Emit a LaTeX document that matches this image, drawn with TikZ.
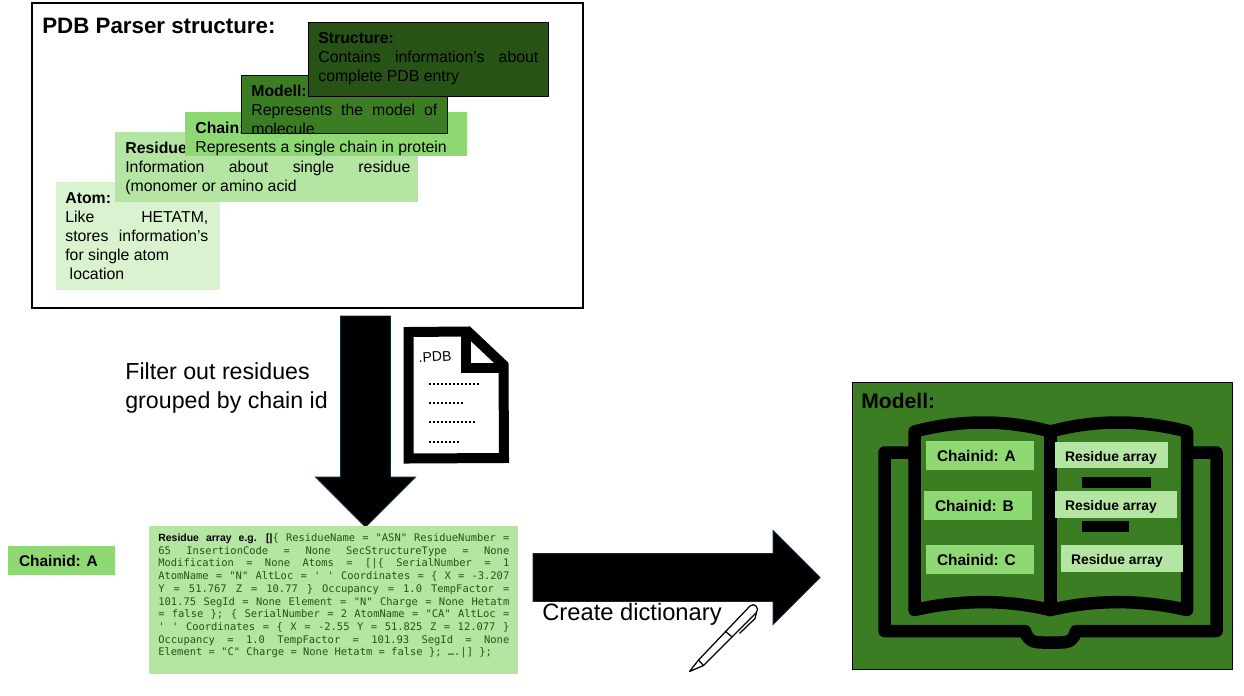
\documentclass[tikz,border=0pt]{standalone}
\usepackage{fontspec}
\setmainfont{Liberation Sans}
\newfontfamily\ArrayFont{DejaVu Sans Mono}
\usetikzlibrary{shapes.arrows}
\definecolor{AtomGreen}{HTML}{D9F2D0}
\definecolor{ResidueGreen}{HTML}{B4E5A2}
\definecolor{ChainGreen}{HTML}{8ED973}
\definecolor{ModellGreen}{HTML}{3B7D23}
\definecolor{StructureGreen}{HTML}{275317}
\definecolor{ArrowEdge}{HTML}{0E2841}
\newcommand{\AtomColor}{AtomGreen}
\newcommand{\ResidueColor}{ResidueGreen}
\newcommand{\ChainColor}{ChainGreen}
\newcommand{\ModellColor}{ModellGreen}
\newcommand{\StructureColor}{StructureGreen}
\newcommand{\FullLine}[1]{\makebox[\linewidth][s]{#1}\\}
\newcommand{\ArrayLine}[1]{\makebox[\linewidth][s]{\spaceskip=0.602em plus 1em\relax #1}\\}

\begin{document}
\begin{tikzpicture}[
	% Define styles and settings
	every node/.append style={execute at begin node={\spaceskip=0pt\xspaceskip=0pt}},
	layerbox/.style={rectangle, inner sep=0pt, outer sep=0pt},
	layertext/.style={anchor=north west, inner sep=0pt, align=left, font=\fontsize{9}{10.8}\selectfont},
	chainbox/.style={rectangle, fill=\ChainColor, inner xsep=0.22cm, inner ysep=0pt, minimum height=0.58cm, text width=1.72cm, align=left, font=\fontsize{8.8}{10}\selectfont\bfseries},
	arraybox/.style={rectangle, fill=\ResidueColor, inner xsep=0.2cm, inner ysep=0pt, minimum height=0.53cm, text height=0.24cm, text depth=0pt, align=left, font=\fontsize{7.9}{9}\selectfont\bfseries},
	bookline/.style={line width=0.25cm, line join=round, line cap=round},
	blockarrow/.style={single arrow, anchor=tail, single arrow head indent=0pt, draw=ArrowEdge, line width=0.5pt, fill=black, inner xsep=0pt, outer sep=0pt},
	caption/.style={anchor=west, inner sep=0pt, align=left, font=\fontsize{13.5}{16.4}\selectfont}
	]
	\useasboundingbox (0,0) rectangle (24.88,13.9);

	% parser structure
	\draw (6.15,10.79) node[layerbox,minimum height=6.10cm,minimum width=11.02cm,draw,line width=0.05cm] (ParserFrame) {};
	\draw (0.84,13.38) node[anchor=west,inner sep=0pt,font=\fontsize{12.7}{14}\selectfont\bfseries] (ParserTitle) {PDB Parser structure:};

	\draw (2.76,9.18) node[layerbox,minimum height=2.16cm,minimum width=3.28cm,fill=\AtomColor] (Atom) {};
	\draw ([xshift=0.18cm,yshift=-0.2cm]Atom.north west) node[layertext,text width=2.86cm] (AtomText) {\textbf{Atom:}\\\FullLine{Like HETATM,}\FullLine{stores information’s}for single atom\\\ location};

	\draw (5.33,10.56) node[layerbox,minimum height=1.40cm,minimum width=6.06cm,fill=\ResidueColor] (Residue) {};
	\draw ([xshift=0.2cm,yshift=-0.2cm]Residue.north west) node[layertext,text width=5.7cm] (ResidueText) {\textbf{Residue:}\\\FullLine{Information about single residue}(monomer or amino acid};

	\draw (6.52,11.22) node[layerbox,minimum height=0.88cm,minimum width=5.64cm,fill=\ChainColor] (Chain) {};
	\draw ([xshift=0.2cm,yshift=-0.19cm]Chain.north west) node[layertext,text width=5.3cm] (ChainText) {\textbf{Chain:}\\Represents a single chain in protein};

	\draw (6.88,11.82) node[layerbox,minimum height=1.16cm,minimum width=4.12cm,draw,fill=\ModellColor] (Modell) {};
	\draw ([xshift=0.2cm,yshift=-0.2cm]Modell.north west) node[layertext,text width=3.72cm] (ModellText) {\textbf{Modell:}\\\FullLine{Represents the model of}molecule};

	\draw (8.56,12.72) node[layerbox,minimum height=1.48cm,minimum width=4.80cm,draw,fill=\StructureColor] (Structure) {};
	\draw ([xshift=0.2cm,yshift=-0.2cm]Structure.north west) node[layertext,text width=4.4cm] (StructureText) {\textbf{Structure:}\\\FullLine{Contains information's about}complete PDB entry};

	% filter step
	\draw (7.31,7.58) node[blockarrow,rotate=-90,minimum height=4.22cm,minimum width=1.98cm,inner ysep=0.49cm,single arrow head extend=0.5cm] (FilterArrow) {};
	\draw (2.5,6.14) node[caption,font=\fontsize{13.2}{16.4}\selectfont] (FilterText) {Filter out residues\\grouped by chain id};

	% pdb file icon
	\draw[line width=0.2cm,line join=miter] (8.17,7.26) -- (9.36,7.27) -- (10.07,6.6) -- (10.08,4.74) -- (8.17,4.73) -- cycle;
	\draw[line width=0.2cm,line join=miter] (9.31,7.26) -- (9.31,6.55) -- (10.07,6.55);
	\draw (8.7,6.76) node[rotate=3,inner sep=0pt,font=\fontsize{8}{9}\selectfont] (FileName) {.PDB};
	\draw[line width=0.03cm,dash pattern=on 0.03cm off 0.05cm] (8.58,6.22) -- (9.6,6.22);
	\draw[line width=0.03cm,dash pattern=on 0.03cm off 0.05cm] (8.58,5.84) -- (9.26,5.84);
	\draw[line width=0.03cm,dash pattern=on 0.03cm off 0.05cm] (8.58,5.46) -- (9.53,5.46);
	\draw[line width=0.03cm,dash pattern=on 0.03cm off 0.05cm] (8.58,5.06) -- (9.18,5.06);

	% chain id and residue array
	\draw (1.23,2.69) node[chainbox,minimum width=2.14cm,text width=1.7cm] (ChainidSingle) {Chainid: A};
	\draw (6.67,1.90) node[layerbox,minimum height=2.96cm,minimum width=7.38cm,fill=\ResidueColor] (ResidueArray) {};
	\draw ([xshift=0.18cm,yshift=-0.14cm]ResidueArray.north west) node[anchor=north west,inner sep=0pt,text width=7.02cm,align=left,text=\StructureColor,font=\fontsize{5.95}{7.25}\selectfont\ArrayFont] (ArrayText) {%
		\ArrayLine{{\color{black}\rmfamily\bfseries Residue array e.g. [|}\{ ResidueName = "ASN" ResidueNumber =}%
		\ArrayLine{65 InsertionCode = None SecStructureType = None}%
		\ArrayLine{Modification = None Atoms = [|\{ SerialNumber = 1}%
		\ArrayLine{AtomName = "N" AltLoc = ' ' Coordinates = \{ X = -3.207}%
		\ArrayLine{Y = 51.767 Z = 10.77 \} Occupancy = 1.0 TempFactor =}%
		\ArrayLine{101.75 SegId = None Element = "N" Charge = None Hetatm}%
		\ArrayLine{= false \}; \{ SerialNumber = 2 AtomName = "CA" AltLoc =}%
		\ArrayLine{' ' Coordinates = \{ X = -2.55 Y = 51.825 Z = 12.077 \}}%
		\ArrayLine{Occupancy = 1.0 TempFactor = 101.93 SegId = None}%
		Element = "C" Charge = None Hetatm = false \}; ….|] \};};

	% dictionary step
	\draw (10.66,2.35) node[blockarrow,minimum height=5.74cm,minimum width=1.86cm,inner ysep=0.47cm,single arrow head extend=0.46cm] (DictArrow) {};
	\draw (10.84,1.62) node[caption] (DictText) {Create dictionary};

	% pen icon
	\draw[line width=0.025cm,line join=round] (13.79,0.47) -- (13.97,0.70) -- (15.0,1.78) .. controls (15.08,1.86) and (15.2,1.74) .. (15.13,1.65) -- (14.07,0.59) -- cycle;
	\draw[line width=0.025cm] (13.97,0.70) -- (14.07,0.59);
	\draw[line width=0.025cm] (14.5,1.28) -- (14.63,1.17);
	\draw[line width=0.025cm] (14.79,1.23) -- (15.1,1.53) -- (15.13,1.65);

	% modell dictionary
	\draw (20.84,3.38) node[layerbox,minimum height=5.73cm,minimum width=7.6cm,draw,fill=\ModellColor] (ModellFrame) {};
	\draw (17.22,5.88) node[anchor=west,inner sep=0pt,font=\fontsize{12}{14}\selectfont\bfseries] (ModellTitle) {Modell:};

	\draw[bookline] (18.17,4.85) -- (17.69,4.85) -- (17.69,1.28) -- (20.5,1.28) .. controls (20.55,1.1) and (20.65,1.05) .. (20.85,1.05) -- (21.2,1.05) .. controls (21.4,1.05) and (21.47,1.1) .. (21.52,1.28) -- (24.33,1.28) -- (24.33,4.85) -- (23.87,4.85);
	\draw[bookline] (21.01,5.27) .. controls (20.13,5.51) and (19.2,5.51) .. (18.29,5.27) -- (18.29,1.70) .. controls (19.2,1.91) and (20.13,1.91) .. (21.01,1.70) .. controls (21.89,1.91) and (22.82,1.91) .. (23.74,1.70) -- (23.74,5.27) .. controls (22.82,5.51) and (21.89,5.51) .. (21.01,5.27) -- cycle;
	\draw[bookline] (21.01,5.27) -- (21.01,1.70);

	\draw (19.6,4.79) node[chainbox] (ChainidA) {Chainid: A};
	\draw (19.56,3.79) node[chainbox] (ChainidB) {Chainid: B};
	\draw (19.6,2.71) node[chainbox] (ChainidC) {Chainid: C};

	\draw (22.23,4.80) node[arraybox,text width=1.86cm] (ArrayA) {Residue array};
	\draw (22.32,3.81) node[arraybox,text width=2.04cm] (ArrayB) {Residue array};
	\draw (22.44,2.73) node[arraybox,text width=2.04cm] (ArrayC) {Residue array};

	\draw (22.33,4.25) node[layerbox,minimum height=0.22cm,minimum width=1.38cm,fill=black] (BarA) {};
	\draw (22.11,3.37) node[layerbox,minimum height=0.22cm,minimum width=0.94cm,fill=black] (BarB) {};

\end{tikzpicture}
\end{document}
